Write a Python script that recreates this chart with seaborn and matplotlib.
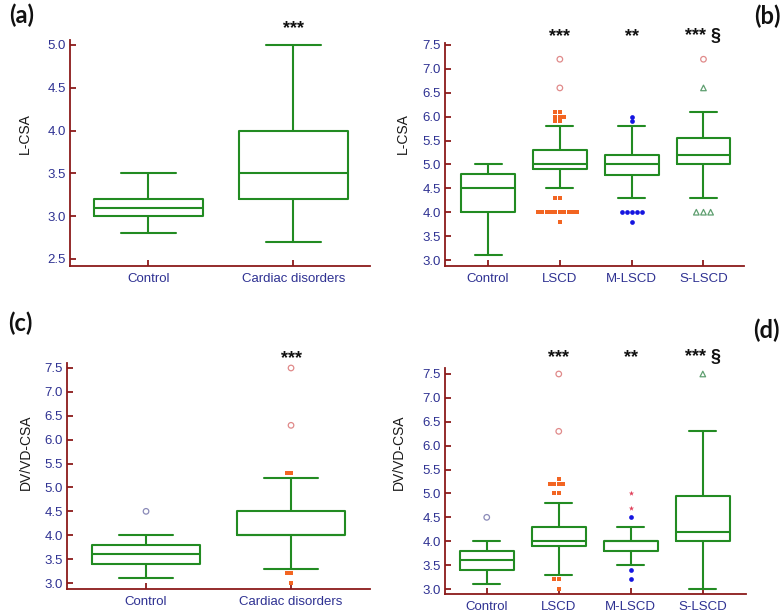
import numpy as np
import pandas as pd
import matplotlib
matplotlib.use("Agg")
import matplotlib.pyplot as plt
import seaborn as sns

# ---------------- data ----------------
# Panel (a): L-CSA, two groups
a_cats = ["Control", "Cardiac disorders"]
a_lo = [2.8, 2.7]
a_q1 = [3.0, 3.2]
a_med = [3.1, 3.5]
a_q3 = [3.2, 4.0]
a_hi = [3.5, 5.0]

# Panel (b): L-CSA, four groups
b_cats = ["Control", "LSCD", "M-LSCD", "S-LSCD"]
b_lo = [3.1, 4.5, 4.3, 4.3]
b_q1 = [4.0, 4.9, 4.77, 5.0]
b_med = [4.5, 5.0, 5.0, 5.2]
b_q3 = [4.8, 5.3, 5.2, 5.55]
b_hi = [5.0, 5.8, 5.8, 6.1]
b_far_cat = ["LSCD", "LSCD", "S-LSCD"]
b_far_val = [7.2, 6.6, 7.2]
b_sq_cat = ["LSCD"] * 20
b_sq_val = [6.1, 6.1, 6.0, 6.0, 6.0, 5.9, 5.9, 4.3, 4.3,
            4.0, 4.0, 4.0, 4.0, 4.0, 4.0, 4.0, 4.0, 4.0, 4.0, 3.8]
b_dot_cat = ["M-LSCD"] * 8
b_dot_val = [6.0, 5.9, 4.0, 4.0, 4.0, 4.0, 4.0, 3.8]
b_tri_cat = ["S-LSCD"] * 4
b_tri_val = [6.6, 4.0, 4.0, 4.0]

# Panel (c): DV/VD-CSA, two groups
c_cats = ["Control", "Cardiac disorders"]
c_lo = [3.1, 3.3]
c_q1 = [3.4, 4.0]
c_med = [3.6, 4.0]
c_q3 = [3.8, 4.5]
c_hi = [4.0, 5.2]
c_ctrl_cat = ["Control"]
c_ctrl_val = [4.5]
c_far_cat = ["Cardiac disorders", "Cardiac disorders"]
c_far_val = [7.5, 6.3]
c_sq_cat = ["Cardiac disorders"] * 5
c_sq_val = [5.3, 5.3, 3.2, 3.2, 3.0]

# Panel (d): DV/VD-CSA, four groups
d_cats = ["Control", "LSCD", "M-LSCD", "S-LSCD"]
d_lo = [3.1, 3.3, 3.5, 3.0]
d_q1 = [3.4, 3.9, 3.8, 4.0]
d_med = [3.6, 4.0, 4.0, 4.2]
d_q3 = [3.8, 4.3, 4.0, 4.95]
d_hi = [4.0, 4.8, 4.3, 6.3]
d_ctrl_cat = ["Control"]
d_ctrl_val = [4.5]
d_far_cat = ["LSCD", "LSCD"]
d_far_val = [7.5, 6.3]
d_sq_cat = ["LSCD"] * 10
d_sq_val = [5.3, 5.2, 5.2, 5.2, 5.2, 5.0, 5.0, 3.2, 3.2, 3.0]
d_star_cat = ["M-LSCD", "M-LSCD"]
d_star_val = [5.0, 4.7]
d_dot_cat = ["M-LSCD"] * 3
d_dot_val = [4.5, 3.4, 3.2]
d_tri_cat = ["S-LSCD"]
d_tri_val = [7.5]

# significance labels
a_sig = ["", "***"]
b_sig = ["", "***", "**", "*** §"]
c_sig = ["", "***"]
d_sig = ["", "***", "**", "*** §"]

# ---------------- style ----------------
sns.set_theme(style="white")
plt.rcParams["font.family"] = ["Liberation Sans", "DejaVu Sans"]

GREEN = "#228b22"
SPINE = "#8b1a1a"
TICKLAB = "#2e3192"
ORANGE = "#f26522"
BLUE = "#1515e0"
PINK = "#e08a8a"
TRI = "#5f9f70"
CTRL_OUT = "#8a8ab8"
STAR = "#e0405a"

fig = plt.figure(figsize=(7.82, 6.15), dpi=100)


def box_frame(cats, lo, q1, med, q3, hi):
    vals = np.column_stack([lo, q1, med, q3, hi]).ravel()
    return pd.DataFrame({"group": np.repeat(cats, 5), "value": vals})


def panel(rect, cats, stats, ylim, xlim, yticks, ylabel, label_xy, sig, sig_y,
          points):
    ax = fig.add_axes(rect)
    df = box_frame(cats, *stats)
    sns.boxplot(data=df, x="group", y="value", order=cats, whis=(0, 100),
                fill=False, color=GREEN, linewidth=1.5, width=0.75,
                showfliers=False, ax=ax)
    for (pc, pv, kw) in points:
        if len(pv) == 0:
            continue
        sns.swarmplot(x=pc, y=pv, order=cats, ax=ax, **kw)
    ax.set_xlim(*xlim)
    ax.set_ylim(*ylim)
    ax.set_yticks(yticks)
    ax.set_yticklabels([f"{t:.1f}" for t in yticks])
    ax.set_xlabel("")
    ax.set_ylabel(ylabel, fontsize=10, color="#1a1a1a")
    ax.yaxis.set_label_coords(*label_xy)
    for s in ["top", "right"]:
        ax.spines[s].set_visible(False)
    for s in ["left", "bottom"]:
        ax.spines[s].set_color(SPINE)
        ax.spines[s].set_linewidth(1.3)
    ax.tick_params(left=True, bottom=True, direction="in", length=4,
                   width=1.3, color=SPINE, labelcolor=TICKLAB,
                   labelsize=9.5, pad=3)
    ax.tick_params(axis="x", pad=5)
    for i, s in enumerate(sig):
        if s:
            ax.text(i, sig_y, s, transform=ax.get_xaxis_transform(),
                    ha="center", va="center", fontsize=13, fontweight="bold",
                    color="#111111", clip_on=False)
    return ax


far_kw = dict(marker="o", color=PINK, facecolor="none", edgecolor=PINK,
              linewidth=0.9, size=4)
sq_kw = dict(marker="s", color=ORANGE, linewidth=0, size=3.0)
dot_kw = dict(marker="o", color=BLUE, linewidth=0, size=3.4)
tri_kw = dict(marker="^", color=TRI, facecolor="none", edgecolor=TRI,
              linewidth=0.9, size=4)
ctrl_kw = dict(marker="o", color=CTRL_OUT, facecolor="none", edgecolor=CTRL_OUT,
               linewidth=0.9, size=4)
star_kw = dict(marker="*", color=STAR, linewidth=0, size=4)

panel([0.0895, 0.5675, 0.384, 0.3675], a_cats,
      (a_lo, a_q1, a_med, a_q3, a_hi), (2.418, 5.058), (-0.54, 1.53),
      np.arange(2.5, 5.01, 0.5), "L-CSA", (-0.127, 0.584), a_sig, 1.05, [])

panel([0.569, 0.5675, 0.382, 0.3626], b_cats,
      (b_lo, b_q1, b_med, b_q3, b_hi), (2.875, 7.54), (-0.6, 3.56),
      np.arange(3.0, 7.51, 0.5), "L-CSA", (-0.117, 0.592), b_sig, 1.03,
      [(b_far_cat, b_far_val, far_kw), (b_sq_cat, b_sq_val, sq_kw),
       (b_dot_cat, b_dot_val, dot_kw), (b_tri_cat, b_tri_val, tri_kw)])

panel([0.0857, 0.0423, 0.3875, 0.3675], c_cats,
      (c_lo, c_q1, c_med, c_q3, c_hi), (2.875, 7.605), (-0.545, 1.545),
      np.arange(3.0, 7.51, 0.5), "DV/VD-CSA", (-0.112, 0.606), c_sig, 1.02,
      [(c_ctrl_cat, c_ctrl_val, ctrl_kw), (c_far_cat, c_far_val, far_kw),
       (c_sq_cat, c_sq_val, sq_kw)])

panel([0.569, 0.0341, 0.385, 0.3675], d_cats,
      (d_lo, d_q1, d_med, d_q3, d_hi), (2.895, 7.625), (-0.58, 3.6),
      np.arange(3.0, 7.51, 0.5), "DV/VD-CSA", (-0.13, 0.628), d_sig, 1.045,
      [(d_ctrl_cat, d_ctrl_val, ctrl_kw), (d_far_cat, d_far_val, far_kw),
       (d_sq_cat, d_sq_val, sq_kw), (d_star_cat, d_star_val, star_kw),
       (d_dot_cat, d_dot_val, dot_kw), (d_tri_cat, d_tri_val, tri_kw)])

lab_kw = dict(fontsize=17, fontweight="bold", family=["Lato", "DejaVu Sans"],
              ha="center", va="center", color="#111111")
fig.text(22 / 782, 1 - 15 / 615, "(a)", **lab_kw)
fig.text(767 / 782, 1 - 16 / 615, "(b)", **lab_kw)
fig.text(20 / 782, 1 - 323 / 615, "(c)", **lab_kw)
fig.text(766 / 782, 1 - 330 / 615, "(d)", **lab_kw)

fig.savefig("out.png", dpi=100)
